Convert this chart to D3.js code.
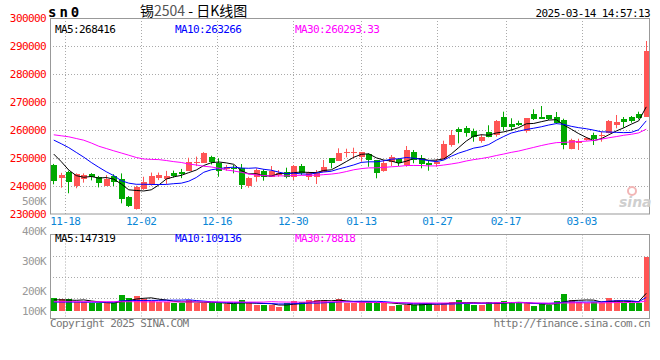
<!DOCTYPE html>
<html><head><meta charset="utf-8">
<script src="https://cdn.jsdelivr.net/npm/d3@7/dist/d3.min.js"></script>
<style>
html,body{margin:0;padding:0;background:#fff;}
svg{display:block;}
.mono{font-family:"DejaVu Sans Mono","Liberation Mono",monospace;font-size:11px;letter-spacing:-0.6px;}
</style></head><body>
<svg id="chart" width="660" height="360"></svg>
<script>
// ---------------- data ----------------
const dates = ["11-14","11-15","11-18","11-19","11-20","11-21","11-22","11-25","11-26","11-27",
"11-28","11-29","12-02","12-03","12-04","12-05","12-06","12-09","12-10","12-11",
"12-12","12-13","12-16","12-17","12-18","12-19","12-20","12-23","12-24","12-25",
"12-26","12-27","12-30","12-31","01-02","01-03","01-06","01-07","01-08","01-09",
"01-10","01-13","01-14","01-15","01-16","01-17","01-20","01-21","01-22","01-23",
"01-24","01-27","02-05","02-06","02-07","02-10","02-11","02-12","02-13","02-14",
"02-17","02-18","02-19","02-20","02-21","02-24","02-25","02-26","02-27","02-28",
"03-03","03-04","03-05","03-06","03-07","03-10","03-11","03-12","03-13","03-14"];

const open = [247500,242700,245100,240100,242500,244300,243100,240000,243600,242500,
235900,231900,238900,240700,243000,242500,244500,244900,245500,248300,
248300,250500,248300,245960,246540,246540,240000,243110,245360,243320,
243930,245000,243110,247250,243110,243110,245110,250000,249040,251790,
251790,250460,251320,249290,245460,248680,249540,247500,252250,249890,
248320,247860,249750,254640,260250,260610,259750,256180,259180,258110,
264750,262140,262610,259750,265610,264750,265360,264540,263570,253210,
255250,256430,258210,257750,258820,261790,264040,264540,265710,264750];

const high = [247900,244700,245500,244500,244500,244600,243600,243900,244200,244500,
236400,240100,243300,244800,244800,245400,245500,246100,250100,250500,
252100,250800,249900,247500,247500,247860,243320,246320,245960,247140,
245710,246540,247500,247860,245110,245710,249290,250000,253460,253320,
253680,252140,251680,249290,249290,251070,249890,254290,252860,251070,
249290,249540,256180,260000,260960,261430,260500,258460,261680,263570,
266540,264180,263320,264180,267390,268570,265360,266430,264040,256890,
256890,257390,259040,259390,263570,265360,264640,265000,266540,291790];

const low = [240600,239400,237400,239200,241200,242000,239500,240000,240000,233800,
232500,231600,238600,240100,242100,240700,243000,242800,245500,247100,
248300,247700,243300,245460,244540,238930,239390,241540,241890,243320,
243320,242750,242140,243930,242140,240710,245110,246320,249040,250250,
249890,248680,246890,242750,245110,247140,247140,246890,248110,246320,
245460,246890,249540,254040,255250,257610,255820,255460,257390,257610,
259750,259750,261430,259040,263570,264040,263570,262140,253110,253110,
252860,256180,254640,255820,258820,260610,260820,262610,263820,264750];

const close = [241900,243900,241400,244300,244100,243300,241000,242400,241500,235400,
232900,239800,241500,243600,243900,243600,243700,244200,248500,248500,
251700,248700,245500,246890,245960,240360,242960,245710,243320,245360,
244750,243110,247250,244540,244540,244540,246890,248320,251680,252140,
252250,252140,249290,244540,248110,250460,248320,252860,249290,247860,
247500,248680,255000,258210,259290,259040,257610,257390,257390,263320,
260960,260960,261680,264180,263930,264040,263930,262390,254640,256430,
256070,257250,256680,258110,263320,262860,262860,263210,264180,288210];

const volume = [108000,99000,99000,76000,76000,63000,63000,63000,63000,133000,
108000,125000,97000,82000,76000,76000,68000,68000,91000,68000,
63000,63000,63000,57000,57000,91000,63000,48000,48000,48000,
34000,63000,82000,74000,91000,91000,91000,74000,99000,63000,
63000,76000,74000,74000,63000,40000,48000,48000,48000,65000,
65000,48000,65000,74000,91000,65000,48000,48000,74000,74000,
82000,63000,63000,63000,40000,63000,48000,82000,142000,91000,
76000,63000,76000,63000,108000,91000,63000,63000,63000,458000];

const ma5Head  = [251400,248700,245700,243700];
const ma10Head = [256400,255100,253700,252000,250300,248400,246700,245100,243700];
const ma30Head = [258290,257930,257570,256960,256360,255360,254210,253390,252570,251790,
251000,250180,249640,249500,249430,249100,248700,248400,247860,247500,
247070,246790,246360,245710,245360,244890,244290,243930,243750];
const volMa5Head  = [92000,92000,90000,88000];
const volMa10Head = [73000,73000,73000,73000,72000,72000,72000,72000,72000];
const volMa30Head = [76000,76000,76000,76000,76000,76000,76000,76000,76000,76000,
76000,76000,75000,75000,75000,75000,75000,75000,75000,75000,
74000,74000,74000,74000,74000,73000,73000,73000,73000];

const priceTicks = [300000,290000,280000,270000,260000,250000,240000,230000];
const priceLabels = ["300000","290000","280000","270000","260000","250000","240000","230000"];
const volTickValues = [500000,400000,300000,200000,100000];
const volTickLabels = ["500K","400K","300K","200K","100K"];
const dateTicks = ["11-18","12-02","12-16","12-30","01-13","01-27","02-17","03-03"];
const priceLegend = ["MA5:268416","MA10:263266","MA30:260293.33"];
const volLegend = ["MA5:147319","MA10:109136","MA30:78818"];
const maColors = ["#000000","#0000ff","#ff00ff"];
const titleCode = "sn0";
const titleParts = ["锡","2504"," - 日K线图"];
const timeText = "2025-03-14 14:57:13";
const copyText = "Copyright 2025 SINA.COM";
const urlText = "http://finance.sina.com.cn";

// ---------------- layout ----------------
const svg = d3.select("#chart");
const L = 50, R = 650;
const pTop = 18, pBot = 214;
const vTop = 234.5, vBot = 318.5;
const upColor = "#ff5555", downColor = "#00a800";
const gridColor = "#aaaaaa", frameColor = "#999999";

const rows = dates.map((d,i)=>({date:d,i,o:open[i],h:high[i],l:low[i],c:close[i],v:volume[i]}));

const x = d3.scaleBand().domain(dates).range([L, R]);
const cx = d => x(d) + x.bandwidth()/2;
const gridX = d3.scaleLinear().domain([0, dates.length - 1]).range([L, R]);
const yP = d3.scaleLinear().domain([230000, 300000]).range([pBot, pTop]);
const yV = d3.scaleLinear().domain([0, 500000]).range([310.7, 251.7]);
const yVLabel = d3.scaleLinear().domain([100000, 500000]).range([320.7, 200.7]);

function movingAvg(vals, n, head){
  return vals.map((v,i)=> i < n-1 ? head[i] : d3.mean(vals.slice(i-n+1, i+1)));
}
const priceMAs = [movingAvg(close,5,ma5Head), movingAvg(close,10,ma10Head), movingAvg(close,30,ma30Head)];
const volMAs = [movingAvg(volume,5,volMa5Head), movingAvg(volume,10,volMa10Head), movingAvg(volume,30,volMa30Head)];

const defs = svg.append("defs");
defs.append("clipPath").attr("id","clipP").append("rect").attr("x",L).attr("y",pTop).attr("width",R-L).attr("height",pBot-pTop);
defs.append("clipPath").attr("id","clipV").append("rect").attr("x",L).attr("y",vTop).attr("width",R-L).attr("height",vBot-vTop);

const crisp = v => Math.round(v) + 0.5;

// ---------- gridlines ----------
const grid = svg.append("g").attr("stroke",gridColor).attr("stroke-dasharray","1,2").attr("stroke-width",1);
priceTicks.slice(1,-1).forEach(t=>{
  grid.append("line").attr("x1",L).attr("x2",R).attr("y1",crisp(yP(t))).attr("y2",crisp(yP(t)));
});
dateTicks.forEach(d=>{
  const gx = crisp(gridX(dates.indexOf(d)));
  grid.append("line").attr("x1",gx).attr("x2",gx).attr("y1",pTop).attr("y2",pBot);
  grid.append("line").attr("x1",gx).attr("x2",gx).attr("y1",vTop).attr("y2",vBot);
});
[1,2,3].forEach(k=>{
  const gy = crisp(vTop + (vBot - vTop) * k / 4);
  grid.append("line").attr("x1",L).attr("x2",R).attr("y1",gy).attr("y2",gy);
});

// ---------- candles ----------
const pg = svg.append("g").attr("clip-path","url(#clipP)");
const col = r => r.c >= r.o ? upColor : downColor;
pg.selectAll("line.wick").data(rows).enter().append("line").attr("class","wick")
  .attr("x1",r=>Math.floor(cx(r.date))+0.5).attr("x2",r=>Math.floor(cx(r.date))+0.5)
  .attr("y1",r=>yP(r.h)).attr("y2",r=>yP(r.l)).attr("stroke",col).attr("stroke-width",1);
pg.selectAll("rect.body").data(rows).enter().append("rect").attr("class","body")
  .attr("x",r=>Math.floor(cx(r.date))-2.5).attr("width",6)
  .attr("y",r=>yP(Math.max(r.o,r.c)))
  .attr("height",r=>Math.max(1, Math.abs(yP(r.o)-yP(r.c))))
  .attr("fill",col).attr("shape-rendering","crispEdges");

priceMAs.forEach((ma,k)=>{
  pg.append("path").datum(ma).attr("fill","none").attr("stroke",maColors[k]).attr("stroke-width",1)
    .attr("d", d3.line().x((v,i)=>cx(dates[i])).y(v=>yP(v)));
});

// ---------- volume ----------
const vg = svg.append("g").attr("clip-path","url(#clipV)");
vg.selectAll("rect.vol").data(rows).enter().append("rect").attr("class","vol")
  .attr("x",r=>Math.floor(cx(r.date))-2.5).attr("width",6)
  .attr("y",r=>yV(r.v)).attr("height",r=>yV(0)-yV(r.v))
  .attr("fill",col).attr("shape-rendering","crispEdges");
volMAs.forEach((ma,k)=>{
  vg.append("path").datum(ma).attr("fill","none").attr("stroke",maColors[k]).attr("stroke-width",1)
    .attr("d", d3.line().x((v,i)=>cx(dates[i])).y(v=>yV(v)));
});

// ---------- frames ----------
svg.append("rect").attr("x",L+0.5).attr("y",pTop+0.5).attr("width",R-L-1).attr("height",pBot-pTop-0.5)
  .attr("fill","none").attr("stroke",frameColor).attr("stroke-width",1);
svg.append("rect").attr("x",L+0.5).attr("y",vTop).attr("width",R-L-1).attr("height",vBot-vTop)
  .attr("fill","none").attr("stroke",frameColor).attr("stroke-width",1);

// ---------- axis labels ----------
svg.append("g").selectAll("text").data(priceTicks).enter().append("text").attr("class","mono")
  .attr("x",46).attr("y",t=>yP(t)).attr("dy","0.38em").attr("text-anchor","end")
  .attr("fill","#ff0000").text((t,i)=>priceLabels[i]);
svg.append("g").selectAll("text").data(volTickValues).enter().append("text").attr("class","mono")
  .attr("x",46).attr("y",t=>Math.min(yVLabel(t), 310.7)).attr("dy","0.38em").attr("text-anchor","end")
  .attr("fill","#999999").text((t,i)=>volTickLabels[i]);
svg.append("g").selectAll("text").data(dateTicks).enter().append("text").attr("class","mono")
  .attr("x",d=>gridX(dates.indexOf(d))).attr("y",225).attr("text-anchor","middle")
  .attr("fill","#0a86d6").text(d=>d);

// ---------- legends ----------
const legX = [55,175,295];
priceLegend.forEach((t,k)=>svg.append("text").attr("class","mono").attr("x",legX[k]).attr("y",33)
  .attr("fill",maColors[k]).text(t));
volLegend.forEach((t,k)=>svg.append("text").attr("class","mono").attr("x",legX[k]).attr("y",242)
  .attr("fill",maColors[k]).text(t));

// ---------- titles ----------
svg.append("text").attr("x",48).attr("y",17).attr("font-family","DejaVu Sans Mono")
  .attr("font-weight","bold").attr("font-size","14px").attr("letter-spacing","3px").attr("fill","#000").text(titleCode);
const tt = svg.append("text").attr("x",140).attr("y",16).attr("font-family","'Noto Sans CJK SC'")
  .attr("font-size","14px").attr("fill","#000");
tt.append("tspan").text(titleParts[0]);
tt.append("tspan").attr("fill","#555555").text(titleParts[1]);
tt.append("tspan").attr("xml:space","preserve").text(titleParts[2]);
svg.append("text").attr("class","mono").attr("x",650).attr("y",17).attr("text-anchor","end")
  .attr("fill","#000").text(timeText);
svg.append("text").attr("class","mono").attr("x",50).attr("y",327).attr("fill","#777777").text(copyText);
svg.append("text").attr("class","mono").attr("x",650).attr("y",327).attr("text-anchor","end")
  .attr("fill","#777777").text(urlText);

// watermark
svg.append("circle").attr("cx",632).attr("cy",191).attr("r",4).attr("fill","none")
  .attr("stroke","#f2b6b6").attr("stroke-width",2);
svg.append("text").attr("x",619).attr("y",207).attr("font-family","DejaVu Sans")
  .attr("font-style","italic").attr("font-weight","bold").attr("font-size","14px")
  .attr("fill","#cfcfcf").text("sina");
</script>
</body></html>
